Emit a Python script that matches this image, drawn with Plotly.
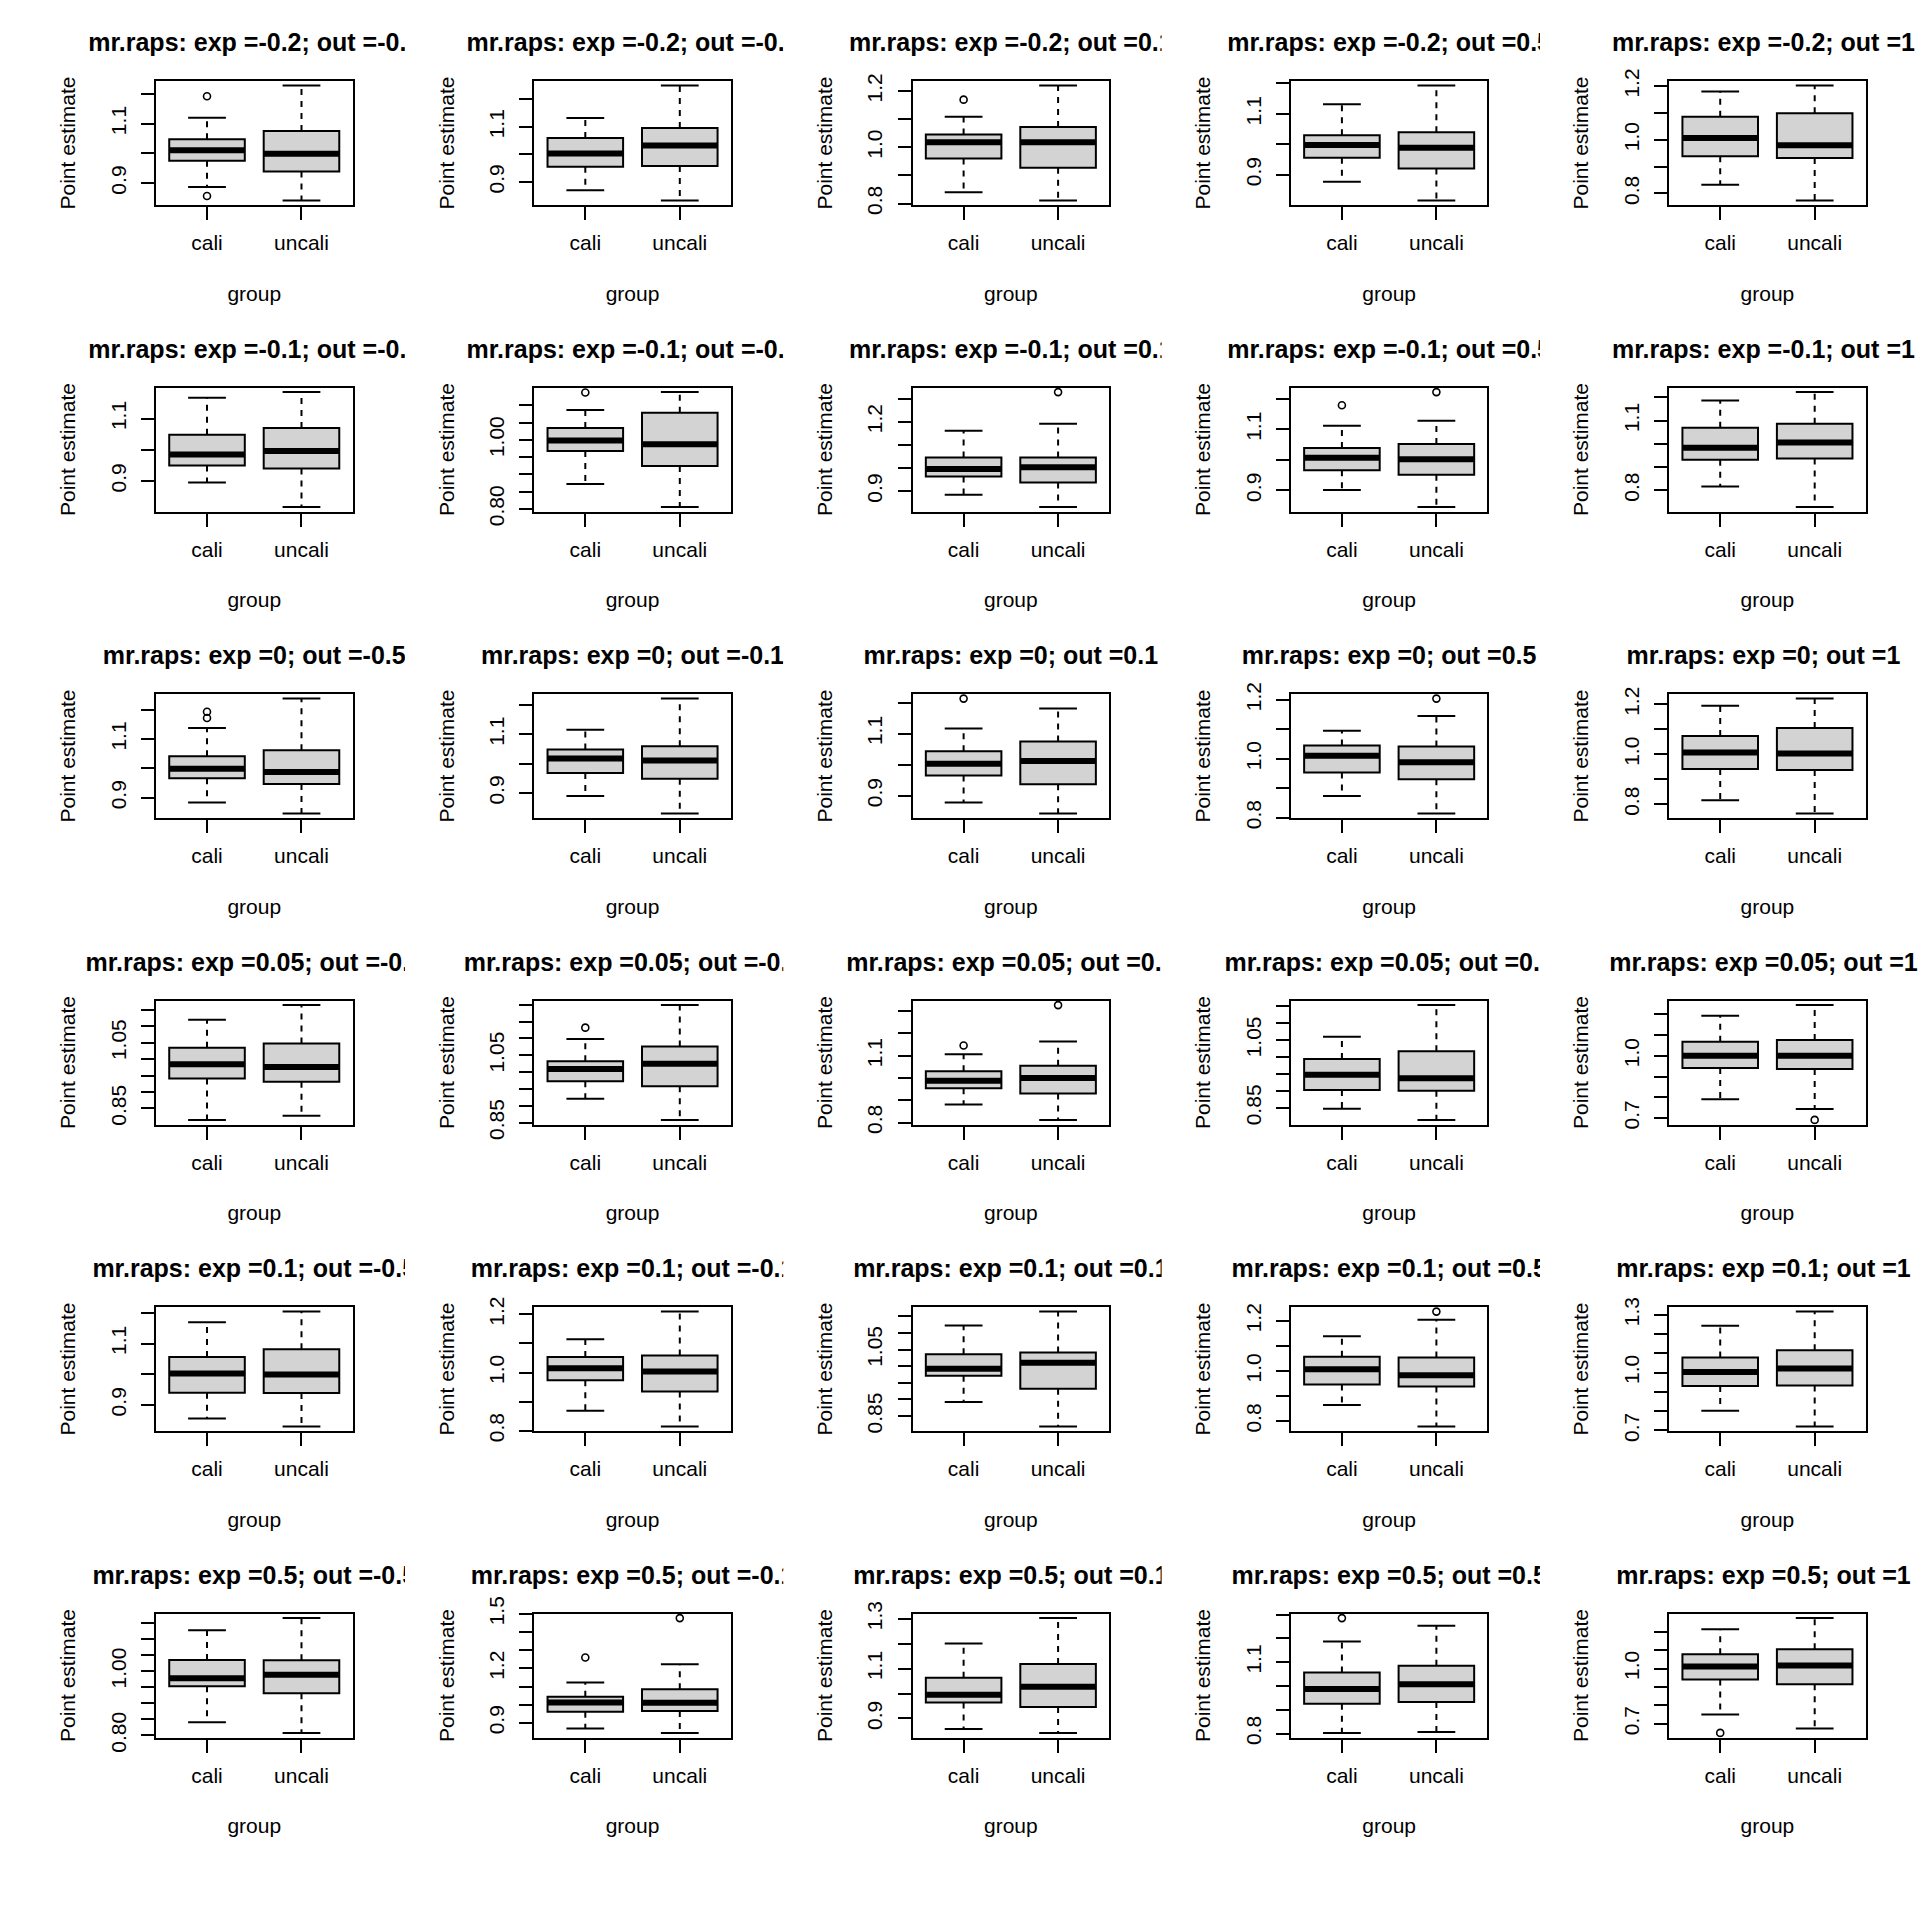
import plotly.graph_objects as go

# ---------------- data ----------------
EXP_VALUES = ["-0.2", "-0.1", "0", "0.05", "0.1", "0.5"]      # rows
OUT_VALUES = ["-0.5", "-0.1", "0.1", "0.5", "1"]              # columns
GROUPS = ["cali", "uncali"]

# five-number summaries per panel (row-major: exp rows x out columns)
CALI_LOW = [0.887, 0.870, 0.840, 0.877, 0.832,
            0.895, 0.872, 0.885, 0.901, 0.816,
            0.884, 0.890, 0.878, 0.874, 0.817,
            0.815, 0.921, 0.881, 0.848, 0.791,
            0.856, 0.869, 0.892, 0.864, 0.802,
            0.841, 0.869, 0.858, 0.803, 0.750]
CALI_Q1 = [0.975, 0.955, 0.960, 0.956, 0.939,
           0.950, 0.968, 0.963, 0.966, 0.931,
           0.967, 0.969, 0.965, 0.954, 0.942,
           0.941, 0.973, 0.954, 0.903, 0.941,
           0.940, 0.973, 0.971, 0.946, 0.931,
           0.953, 0.961, 0.964, 0.925, 0.940]
CALI_MED = [1.011, 1.003, 1.018, 0.998, 1.007,
            0.985, 0.998, 0.996, 1.007, 0.983,
            0.999, 1.018, 1.003, 1.010, 1.007,
            0.985, 1.009, 0.988, 0.948, 1.000,
            1.002, 1.015, 0.992, 1.007, 1.003,
            0.978, 1.013, 0.995, 0.987, 1.011]
CALI_Q3 = [1.048, 1.060, 1.045, 1.030, 1.086,
           1.048, 1.034, 1.045, 1.039, 1.069,
           1.042, 1.049, 1.043, 1.045, 1.073,
           1.035, 1.032, 1.030, 0.994, 1.068,
           1.056, 1.053, 1.036, 1.057, 1.078,
           1.035, 1.044, 1.063, 1.057, 1.078]
CALI_HIGH = [1.120, 1.132, 1.108, 1.132, 1.180,
             1.167, 1.086, 1.161, 1.112, 1.187,
             1.138, 1.116, 1.117, 1.095, 1.194,
             1.120, 1.098, 1.107, 1.060, 1.193,
             1.169, 1.114, 1.122, 1.139, 1.243,
             1.127, 1.123, 1.201, 1.187, 1.214]
CALI_OUTLIERS = [[1.192, 0.857], [], [1.169], [], [],
                 [], [1.137], [], [1.179], [],
                 [1.172, 1.193], [], [1.213], [], [],
                 [], [1.132], [1.146], [], [],
                 [], [], [], [], [],
                 [], [1.260], [], [1.285], [0.650]]

UNCALI_LOW = [0.842, 0.833, 0.811, 0.816, 0.774,
              0.817, 0.806, 0.832, 0.846, 0.728,
              0.847, 0.831, 0.843, 0.815, 0.764,
              0.828, 0.858, 0.812, 0.815, 0.743,
              0.830, 0.815, 0.819, 0.779, 0.721,
              0.808, 0.845, 0.842, 0.807, 0.674]
UNCALI_Q1 = [0.939, 0.958, 0.927, 0.921, 0.932,
             0.940, 0.924, 0.937, 0.951, 0.937,
             0.947, 0.949, 0.937, 0.931, 0.938,
             0.931, 0.958, 0.931, 0.901, 0.936,
             0.939, 0.935, 0.932, 0.938, 0.933,
             0.931, 0.965, 0.946, 0.933, 0.915]
UNCALI_MED = [0.999, 1.032, 1.018, 0.989, 0.980,
              0.996, 0.987, 1.003, 1.002, 1.006,
              0.988, 1.011, 1.012, 0.988, 1.003,
              0.976, 1.025, 1.000, 0.938, 1.000,
              0.999, 1.003, 1.010, 0.983, 1.021,
              0.989, 1.011, 1.027, 1.007, 1.016]
UNCALI_Q3 = [1.075, 1.096, 1.072, 1.040, 1.099,
             1.070, 1.078, 1.045, 1.052, 1.086,
             1.062, 1.060, 1.075, 1.042, 1.105,
             1.048, 1.076, 1.055, 1.017, 1.076,
             1.081, 1.058, 1.041, 1.054, 1.116,
             1.034, 1.085, 1.119, 1.085, 1.105]
UNCALI_HIGH = [1.228, 1.250, 1.219, 1.193, 1.202,
               1.185, 1.138, 1.191, 1.128, 1.223,
               1.238, 1.222, 1.181, 1.145, 1.223,
               1.165, 1.199, 1.164, 1.153, 1.244,
               1.204, 1.209, 1.164, 1.204, 1.316,
               1.165, 1.223, 1.303, 1.253, 1.274]
UNCALI_OUTLIERS = [[], [], [], [], [],
                   [], [], [1.328], [1.222], [],
                   [], [], [], [1.204], [],
                   [], [], [1.327], [], [0.691],
                   [], [], [], [1.237], [],
                   [], [1.477], [], [], []]

# y-axis ticks per panel and the tick labels R actually printed
Y_TICKS = [
    [0.9, 1.0, 1.1, 1.2], [0.9, 1.0, 1.1, 1.2], [0.8, 0.9, 1.0, 1.1, 1.2], [0.9, 1.0, 1.1, 1.2], [0.8, 0.9, 1.0, 1.1, 1.2],
    [0.9, 1.0, 1.1], [0.80, 0.85, 0.90, 0.95, 1.00, 1.05, 1.10], [0.9, 1.0, 1.1, 1.2, 1.3], [0.9, 1.0, 1.1, 1.2], [0.8, 0.9, 1.0, 1.1, 1.2],
    [0.9, 1.0, 1.1, 1.2], [0.9, 1.0, 1.1, 1.2], [0.9, 1.0, 1.1, 1.2], [0.8, 0.9, 1.0, 1.1, 1.2], [0.8, 0.9, 1.0, 1.1, 1.2],
    [0.85, 0.90, 0.95, 1.00, 1.05, 1.10, 1.15], [0.85, 0.90, 0.95, 1.00, 1.05, 1.10, 1.15, 1.20], [0.8, 0.9, 1.0, 1.1, 1.2, 1.3], [0.85, 0.90, 0.95, 1.00, 1.05, 1.10, 1.15], [0.7, 0.8, 0.9, 1.0, 1.1, 1.2],
    [0.9, 1.0, 1.1, 1.2], [0.8, 0.9, 1.0, 1.1, 1.2], [0.85, 0.90, 0.95, 1.00, 1.05, 1.10, 1.15], [0.8, 0.9, 1.0, 1.1, 1.2], [0.7, 0.8, 0.9, 1.0, 1.1, 1.2, 1.3],
    [0.80, 0.85, 0.90, 0.95, 1.00, 1.05, 1.10, 1.15], [0.9, 1.0, 1.1, 1.2, 1.3, 1.4, 1.5], [0.9, 1.0, 1.1, 1.2, 1.3], [0.8, 0.9, 1.0, 1.1, 1.2, 1.3], [0.7, 0.8, 0.9, 1.0, 1.1, 1.2],
]
Y_LABELS = [
    ["0.9", "1.1"], ["0.9", "1.1"], ["0.8", "1.0", "1.2"], ["0.9", "1.1"], ["0.8", "1.0", "1.2"],
    ["0.9", "1.1"], ["0.80", "1.00"], ["0.9", "1.2"], ["0.9", "1.1"], ["0.8", "1.1"],
    ["0.9", "1.1"], ["0.9", "1.1"], ["0.9", "1.1"], ["0.8", "1.0", "1.2"], ["0.8", "1.0", "1.2"],
    ["0.85", "1.05"], ["0.85", "1.05"], ["0.8", "1.1"], ["0.85", "1.05"], ["0.7", "1.0"],
    ["0.9", "1.1"], ["0.8", "1.0", "1.2"], ["0.85", "1.05"], ["0.8", "1.0", "1.2"], ["0.7", "1.0", "1.3"],
    ["0.80", "1.00"], ["0.9", "1.2", "1.5"], ["0.9", "1.1", "1.3"], ["0.8", "1.1"], ["0.7", "1.0"],
]

# ---------------- layout constants (pixels) ----------------
W = H = 1920
N_ROWS, N_COLS = 6, 5
COL_LEFT0, COL_STEP, PLOT_W = 156.0, 378.3, 196.5
ROW_TOP0, ROW_STEP, PLOT_H = 81.0, 306.5, 124.0
TITLE_CLIP = 249.0          # title is clipped at the figure region edge
TITLE_RISE = 36.0           # title centre above the plot box
LAST_COL_SHIFT = 4.0        # keep the last column's titles inside the page
FONT = "Liberation Sans, Arial, Helvetica, sans-serif"
AX_FONT = 21
TITLE_FONT = 25
BOX_FILL = "#D3D3D3"
HALF_BOX = 0.4
HALF_STAPLE = 0.2
CLEAR = "rgba(0,0,0,0)"

fig = go.Figure()
layout_axes = {}
n_panels = N_ROWS * N_COLS

for k in range(n_panels):
    r, c = divmod(k, N_COLS)
    ax_i = k + 1
    xa = "x" if ax_i == 1 else f"x{ax_i}"
    ya = "y" if ax_i == 1 else f"y{ax_i}"
    left = COL_LEFT0 + COL_STEP * c
    top = ROW_TOP0 + ROW_STEP * r

    lows = [CALI_LOW[k], UNCALI_LOW[k]]
    q1s = [CALI_Q1[k], UNCALI_Q1[k]]
    meds = [CALI_MED[k], UNCALI_MED[k]]
    q3s = [CALI_Q3[k], UNCALI_Q3[k]]
    highs = [CALI_HIGH[k], UNCALI_HIGH[k]]
    outs = [CALI_OUTLIERS[k], UNCALI_OUTLIERS[k]]
    pos = [1, 2]

    wx, wy, sx, sy, mx, my = [], [], [], [], [], []
    for p, lo, a, m, b, hi in zip(pos, lows, q1s, meds, q3s, highs):
        wx += [p, p, None, p, p, None]
        wy += [b, hi, None, a, lo, None]
        sx += [p - HALF_STAPLE, p + HALF_STAPLE, None, p - HALF_STAPLE, p + HALF_STAPLE, None]
        sy += [hi, hi, None, lo, lo, None]
        mx += [p - HALF_BOX, p + HALF_BOX, None]
        my += [m, m, None]
    # dashed whiskers
    fig.add_trace(go.Scatter(x=wx, y=wy, mode="lines", xaxis=xa, yaxis=ya,
                             line=dict(color="black", width=2, dash="6px,6px"),
                             hoverinfo="skip", showlegend=False))
    # boxes (Q1..Q3)
    fig.add_trace(go.Box(x=pos, q1=q1s, median=meds, q3=q3s, lowerfence=q1s, upperfence=q3s,
                         width=2 * HALF_BOX, whiskerwidth=0, xaxis=xa, yaxis=ya,
                         fillcolor=BOX_FILL, line=dict(color="black", width=2),
                         showlegend=False, name="panel %d" % ax_i))
    # whisker staples
    fig.add_trace(go.Scatter(x=sx, y=sy, mode="lines", xaxis=xa, yaxis=ya,
                             line=dict(color="black", width=2),
                             hoverinfo="skip", showlegend=False))
    # thick medians
    fig.add_trace(go.Scatter(x=mx, y=my, mode="lines", xaxis=xa, yaxis=ya,
                             line=dict(color="black", width=6),
                             hoverinfo="skip", showlegend=False))
    ox, oy = [], []
    for p, o in zip(pos, outs):
        ox += [p] * len(o)
        oy += o
    if ox:
        fig.add_trace(go.Scatter(x=ox, y=oy, mode="markers", xaxis=xa, yaxis=ya,
                                 marker=dict(symbol="circle-open", size=7, color="black",
                                             line=dict(width=1.6, color="black")),
                                 showlegend=False))

    allv = lows + highs + outs[0] + outs[1]
    vmin, vmax = min(allv), max(allv)
    pad = 0.04 * (vmax - vmin)
    ticktext = []
    for t in Y_TICKS[k]:
        lab = ""
        for s in Y_LABELS[k]:
            if abs(float(s) - t) < 1e-9:
                lab = s
        ticktext.append(lab)

    axis_common = dict(showgrid=False, zeroline=False, showline=True, mirror=True,
                       linecolor="black", linewidth=2, ticks="outside", ticklen=13,
                       tickwidth=2, tickcolor="black", automargin=False,
                       tickfont=dict(family=FONT, size=AX_FONT, color="black"))
    layout_axes["xaxis" if ax_i == 1 else f"xaxis{ax_i}"] = dict(
        domain=[left / W, (left + PLOT_W) / W], anchor=ya,
        range=[0.46, 2.54], tickmode="array", tickvals=pos, ticktext=GROUPS,
        ticklabelstandoff=5,
        title=dict(text="group", standoff=33, font=dict(family=FONT, size=AX_FONT, color="black")),
        **axis_common)
    layout_axes["yaxis" if ax_i == 1 else f"yaxis{ax_i}"] = dict(
        domain=[1 - (top + PLOT_H) / H, 1 - top / H], anchor=xa,
        range=[vmin - pad, vmax + pad], tickmode="array", tickvals=Y_TICKS[k], ticktext=ticktext,
        tickangle=-90, ticklabelstandoff=7,
        title=dict(text="Point estimate", standoff=25, font=dict(family=FONT, size=AX_FONT, color="black")),
        **axis_common)

    # panel title: drawn in a hidden overlay subplot so that it is clipped like R's figure region
    t_i = n_panels + k + 1
    band_left = left - 128.0
    last = (c == N_COLS - 1)
    band_right = W if last else left + TITLE_CLIP
    band_top = top - 78.0
    band_bottom = top - 8.0
    layout_axes[f"xaxis{t_i}"] = dict(domain=[band_left / W, band_right / W], range=[0, 1],
                                      visible=False, anchor=f"y{t_i}", fixedrange=True, automargin=False)
    layout_axes[f"yaxis{t_i}"] = dict(domain=[1 - band_bottom / H, 1 - band_top / H], range=[0, 1],
                                      visible=False, anchor=f"x{t_i}", fixedrange=True, automargin=False)
    title = f"mr.raps: exp ={EXP_VALUES[r]}; out ={OUT_VALUES[c]}"
    centre = left + PLOT_W / 2 - (LAST_COL_SHIFT if last else 0.0)
    cx = (centre - band_left) / (band_right - band_left)
    cy = (band_bottom - (top - TITLE_RISE)) / (band_bottom - band_top)
    fig.add_trace(go.Scatter(x=[cx], y=[cy], mode="text", text=[title], xaxis=f"x{t_i}", yaxis=f"y{t_i}",
                             textposition="middle center", cliponaxis=True,
                             textfont=dict(family=FONT, size=TITLE_FONT, color="black", weight="bold"),
                             hoverinfo="skip", showlegend=False))

fig.update_layout(
    width=W, height=H, margin=dict(l=0, r=0, t=0, b=0, pad=0, autoexpand=False),
    paper_bgcolor="white", plot_bgcolor=CLEAR,
    boxmode="overlay", showlegend=False,
    font=dict(family=FONT, size=AX_FONT, color="black"),
    **layout_axes,
)

fig.write_html("out.html")
